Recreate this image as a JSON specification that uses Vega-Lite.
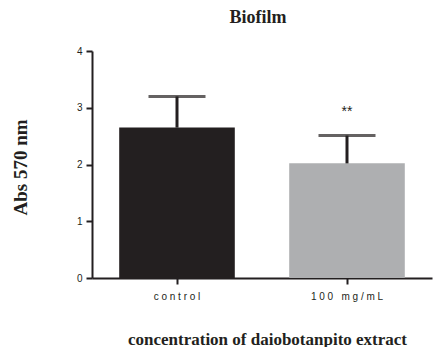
{
  "$schema": "https://vega.github.io/schema/vega-lite/v6.json",
  "width": 340,
  "height": 227,
  "autosize": {"type": "none"},
  "padding": {"left": 92, "top": 51, "right": 2, "bottom": 69},
  "background": "white",
  "config": {"view": {"stroke": null}, "font": "Liberation Sans"},
  "title": {
    "text": "Biofilm",
    "font": "Liberation Serif",
    "fontSize": 18,
    "fontWeight": "bold",
    "color": "#231f20",
    "anchor": "middle",
    "dx": -4,
    "offset": 19
  },
  "data": {
    "values": [
      {"group": "control", "mean": 2.65, "upper": 3.2, "sig": ""},
      {"group": "100 mg/mL", "mean": 2.02, "upper": 2.51, "sig": "**"}
    ]
  },
  "encoding": {
    "x": {
      "field": "group",
      "type": "nominal",
      "sort": ["control", "100 mg/mL"],
      "scale": {"paddingInner": 0.32, "paddingOuter": 0.16},
      "axis": {
        "title": "concentration of daiobotanpito extract",
        "titleFont": "Liberation Serif",
        "titleFontSize": 17,
        "titleFontWeight": "bold",
        "titleColor": "#231f20",
        "titleY": 66,
        "titleBaseline": "alphabetic",
        "titleX": 175,
        "labelAngle": 0,
        "labelExpr": "join(split(datum.label, ''), '\u00a0')",
        "labelFont": "Liberation Sans",
        "labelFontSize": 10,
        "labelColor": "#231f20",
        "labelPadding": 7,
        "domainColor": "#231f20",
        "domainWidth": 2,
        "tickColor": "#231f20",
        "tickWidth": 2,
        "tickSize": 6
      }
    }
  },
  "layer": [
    {
      "mark": {"type": "bar"},
      "encoding": {
        "y": {
          "field": "mean",
          "type": "quantitative",
          "scale": {"domain": [0, 4], "nice": false},
          "axis": {
            "title": "Abs 570 nm",
            "titleFont": "Liberation Serif",
            "titleFontSize": 19,
            "titleFontWeight": "bold",
            "titleColor": "#231f20",
            "titleX": -72,
            "titleY": 116,
            "titleAlign": "center",
            "titleBaseline": "middle",
            "values": [0, 1, 2, 3, 4],
            "format": "d",
            "grid": false,
            "labelFont": "Liberation Sans",
            "labelFontSize": 10,
            "labelColor": "#231f20",
            "labelPadding": 4,
            "domainColor": "#231f20",
            "domainWidth": 2,
            "tickColor": "#231f20",
            "tickWidth": 2,
            "tickSize": 6
          }
        },
        "color": {
          "field": "group",
          "type": "nominal",
          "scale": {"domain": ["control", "100 mg/mL"], "range": ["#231f20", "#aeafb1"]},
          "legend": null
        }
      }
    },
    {
      "mark": {"type": "rule", "color": "#231f20", "strokeWidth": 3},
      "encoding": {
        "y": {"field": "mean", "type": "quantitative"},
        "y2": {"field": "upper"}
      }
    },
    {
      "mark": {"type": "tick", "color": "#231f20", "size": 57, "thickness": 3},
      "encoding": {
        "y": {"field": "upper", "type": "quantitative"}
      }
    },
    {
      "mark": {"type": "text", "font": "Liberation Sans", "fontSize": 14, "color": "#231f20", "dy": -24, "baseline": "middle"},
      "encoding": {
        "y": {"field": "upper", "type": "quantitative"},
        "text": {"field": "sig"}
      }
    }
  ]
}
